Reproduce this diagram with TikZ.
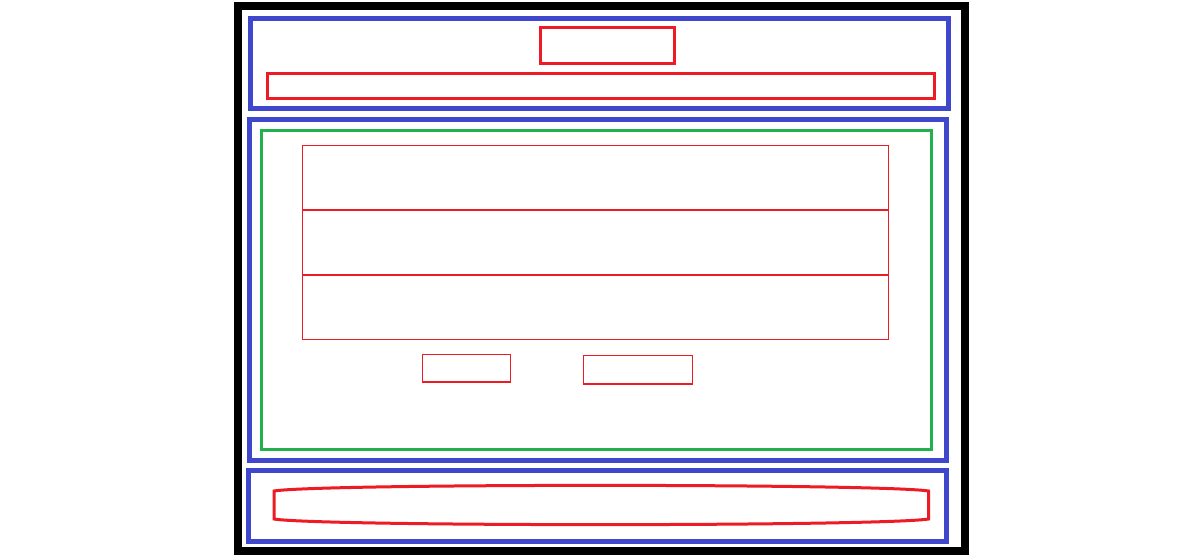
\documentclass[tikz,border=0pt]{standalone}
\usetikzlibrary{calc}
\definecolor{wfred}{HTML}{ED1C24}
\definecolor{wfblue}{HTML}{3F48CC}
\definecolor{wfgreen}{HTML}{22B14C}
\tikzset{
  frame/.style={draw=black,line width=8pt},
  section/.style={draw=wfblue,line width=5pt},
  content/.style={draw=wfgreen,line width=3pt},
  thick red/.style={draw=wfred,line width=3pt},
  thin red/.style={draw=wfred,line width=1.2pt},
}
\begin{document}
\begin{tikzpicture}[x=1pt,y=-1pt]
\useasboundingbox[fill=white] (0,0) rectangle (1190,559);
% outer frame
\draw[frame] (238,6) rectangle (965,551);
% header section
\draw[section] (250.5,19) rectangle (948,109);
\draw[thick red] (540,27.8) rectangle (674.7,63.8);
\draw[thick red] (267.5,74) rectangle (934.5,99);
% main section
\draw[section] (249.5,119.5) rectangle (946.5,460.5);
\draw[content] (261.5,130.5) rectangle (931.5,449.5);
\draw[thin red] (302.5,145.5) rectangle (888.5,209.5);
\draw[thin red] (302.5,210.5) rectangle (888.5,274.5);
\draw[thin red] (302.5,275.5) rectangle (888.5,339.5);
\draw[thin red] (422.5,354.5) rectangle (510.5,382);
\draw[thin red] (583.5,355.5) rectangle (692.5,384);
% footer section
\draw[section] (248.5,470.5) rectangle (946.5,541.5);
\draw[thick red] (274,491) .. controls (320,483.5) and (880,483.5) .. (928.5,491)
  -- (928.5,519) .. controls (880,526.5) and (320,526.5) .. (274,519) -- cycle;
\end{tikzpicture}
\end{document}
